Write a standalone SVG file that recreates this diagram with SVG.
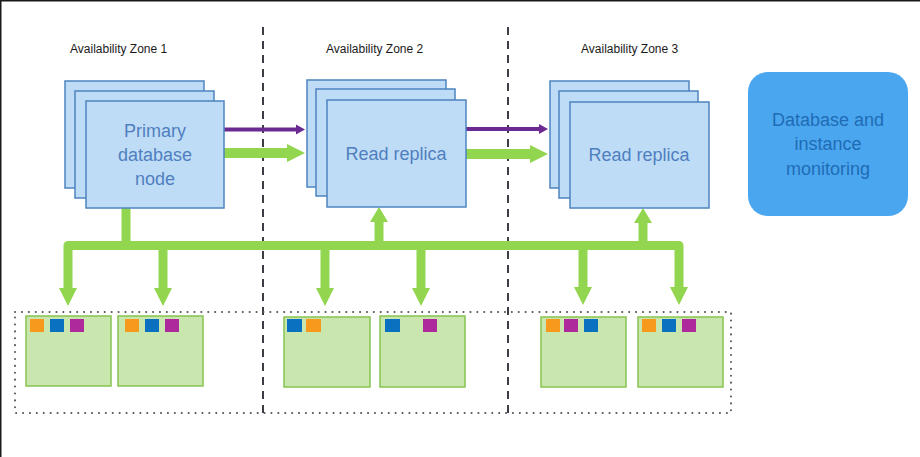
<svg xmlns="http://www.w3.org/2000/svg" width="920" height="457" viewBox="0 0 920 457">
<style>
.zl{font-family:"Liberation Sans",Arial,sans-serif;font-size:12px;fill:#1a1a1a}
.nt{font-family:"Liberation Sans",Arial,sans-serif;font-size:18px;fill:#4f7fbf;text-anchor:middle}
.mt{font-family:"Liberation Sans",Arial,sans-serif;font-size:18px;fill:#1f6cb5;text-anchor:middle}
.db{fill:#bfdcf6;stroke:#4f84c0;stroke-width:1.5}
.gb{fill:#c8e6ad;stroke:#86c450;stroke-width:1.5}
.o{fill:#f7991c}
.b{fill:#0a70c0}
.m{fill:#ae2a9c}
.dash{stroke:#3c3c44;stroke-width:2;stroke-dasharray:8 6;fill:none}
.dot{stroke:#555;stroke-width:2;stroke-dasharray:0.1 6.8;stroke-linecap:round;fill:none}
.gl{stroke:#92d650;fill:none}
.gh{fill:#92d650}
.pl{stroke:#6a2a92;stroke-width:4;fill:none}
.ph{fill:#6a2a92}
</style>
<rect x="0" y="0" width="920" height="457" fill="#ffffff"/>
<line x1="0.75" y1="0" x2="0.75" y2="457" stroke="#1a1a1a" stroke-width="1.5"/>
<line x1="0" y1="0.75" x2="920" y2="0.75" stroke="#1a1a1a" stroke-width="1.5"/>

<g id="zones">
<line class="dash" x1="263" y1="27" x2="263" y2="414"/>
<line class="dash" x1="508" y1="27" x2="508" y2="414"/>
<rect class="dot" x="15" y="312" width="716" height="101"/>
<text class="zl" x="70" y="53">Availability Zone 1</text>
<text class="zl" x="326" y="53">Availability Zone 2</text>
<text class="zl" x="581" y="53">Availability Zone 3</text>
</g>

<g id="connectors">
<line class="pl" x1="224" y1="129.5" x2="298" y2="129.5"/>
<polygon class="ph" points="296,124.5 305,129.5 296,134.5"/>
<line class="gl" stroke-width="10" x1="224" y1="153" x2="289" y2="153"/>
<polygon class="gh" points="287,144 305,153 287,162"/>
<line class="pl" x1="466" y1="129" x2="541" y2="129"/>
<polygon class="ph" points="539,124 548,129 539,134"/>
<line class="gl" stroke-width="10" x1="466" y1="154" x2="532" y2="154"/>
<polygon class="gh" points="530,145 548,154 530,163"/>
<path class="gl" stroke-width="9" stroke-linejoin="round" d="M68,290 V245.5 H679 V290"/>
<line class="gl" stroke-width="9" x1="126" y1="208" x2="126" y2="245"/>
<line class="gl" stroke-width="9" x1="163" y1="245" x2="163" y2="290"/>
<line class="gl" stroke-width="9" x1="325" y1="245" x2="325" y2="290"/>
<line class="gl" stroke-width="9" x1="421" y1="245" x2="421" y2="290"/>
<line class="gl" stroke-width="9" x1="583" y1="245" x2="583" y2="290"/>
<polygon class="gh" points="59,288 77,288 68,306"/>
<polygon class="gh" points="154,288 172,288 163,306"/>
<polygon class="gh" points="316,288 334,288 325,306"/>
<polygon class="gh" points="412,288 430,288 421,306"/>
<polygon class="gh" points="574,287 592,287 583,305"/>
<polygon class="gh" points="670,287 688,287 679,305"/>
<line class="gl" stroke-width="9" x1="379" y1="245" x2="379" y2="220"/>
<polygon class="gh" points="370,222 388,222 379,207"/>
<line class="gl" stroke-width="9" x1="643" y1="245" x2="643" y2="221"/>
<polygon class="gh" points="634,223 652,223 643,208"/>
</g>

<g id="primary">
<rect class="db" x="65" y="81" width="139" height="107"/>
<rect class="db" x="75" y="91" width="139" height="107"/>
<rect class="db" x="86" y="101" width="138" height="107"/>
<text class="nt" x="155" y="137">Primary</text>
<text class="nt" x="155" y="161">database</text>
<text class="nt" x="155" y="185">node</text>
</g>

<g id="replica2">
<rect class="db" x="307" y="80" width="139" height="107"/>
<rect class="db" x="316" y="89" width="139" height="107"/>
<rect class="db" x="327" y="100" width="139" height="107"/>
<text class="nt" x="396" y="160">Read replica</text>
</g>

<g id="replica3">
<rect class="db" x="550" y="81" width="139" height="107"/>
<rect class="db" x="559" y="91" width="139" height="107"/>
<rect class="db" x="570" y="102" width="139" height="106"/>
<text class="nt" x="639" y="161">Read replica</text>
</g>

<g id="monitoring">
<rect x="748" y="72" width="160" height="144" rx="20" ry="20" fill="#4aa6ef"/>
<text class="mt" x="828" y="126">Database and</text>
<text class="mt" x="828" y="150">instance</text>
<text class="mt" x="828" y="175">monitoring</text>
</g>

<g id="client1">
<rect class="gb" x="26" y="316" width="85" height="70"/>
<rect class="o" x="30" y="319" width="14" height="13"/>
<rect class="b" x="50" y="319" width="14" height="13"/>
<rect class="m" x="70" y="319" width="14" height="13"/>
</g>
<g id="client2">
<rect class="gb" x="118" y="316" width="85" height="70"/>
<rect class="o" x="125" y="319" width="14" height="13"/>
<rect class="b" x="145" y="319" width="14" height="13"/>
<rect class="m" x="165" y="319" width="14" height="13"/>
</g>
<g id="client3">
<rect class="gb" x="284" y="317" width="86" height="70"/>
<rect class="b" x="287" y="319" width="15" height="13"/>
<rect class="o" x="306" y="319" width="15" height="13"/>
</g>
<g id="client4">
<rect class="gb" x="380" y="316" width="85" height="71"/>
<rect class="b" x="385" y="319" width="15" height="13"/>
<rect class="m" x="423" y="319" width="14" height="13"/>
</g>
<g id="client5">
<rect class="gb" x="541" y="317" width="85" height="70"/>
<rect class="o" x="546" y="319" width="14" height="13"/>
<rect class="m" x="564" y="319" width="14" height="13"/>
<rect class="b" x="584" y="319" width="14" height="13"/>
</g>
<g id="client6">
<rect class="gb" x="638" y="317" width="85" height="70"/>
<rect class="o" x="642" y="319" width="14" height="13"/>
<rect class="b" x="662" y="319" width="14" height="13"/>
<rect class="m" x="682" y="319" width="14" height="13"/>
</g>
</svg>
